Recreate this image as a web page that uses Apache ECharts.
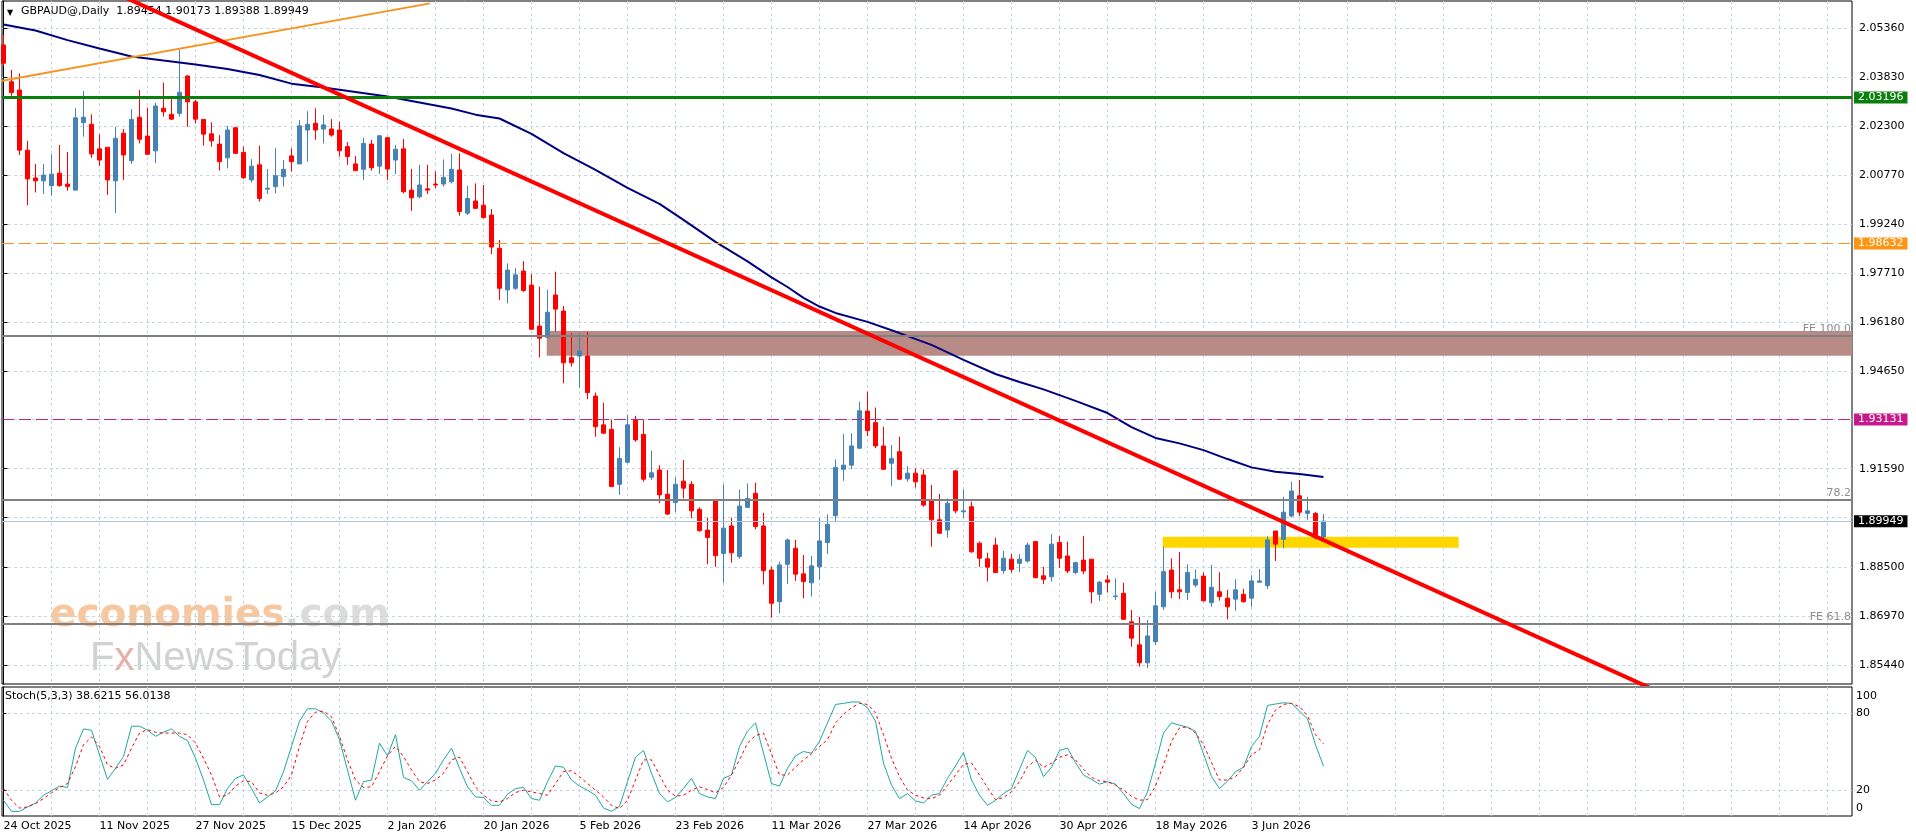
<!DOCTYPE html>
<html>
<head>
<meta charset="utf-8">
<title>GBPAUD@, Daily</title>
<script src="https://cdn.jsdelivr.net/npm/echarts@6/dist/echarts.min.js"></script>
<style>
  html, body { margin: 0; padding: 0; background: #fff; }
  #chart { width: 1916px; height: 840px; }
</style>
</head>
<body>
<div id="chart"></div>
<script>
// daily bars from 24 Oct 2025, one per trading day: [open, close, low, high]
const ohlc = [
  [2.0484, 2.0427, 2.0418, 2.0515], [2.0369, 2.0335, 2.0325, 2.0406], [2.0343, 2.0155, 2.0140, 2.0395], [2.0155, 2.0065, 1.9983, 2.0184],
  [2.0068, 2.0059, 2.0023, 2.0112], [2.0059, 2.0077, 2.0018, 2.0112], [2.0044, 2.0080, 2.0013, 2.0142], [2.0083, 2.0044, 2.0041, 2.0171],
  [2.0049, 2.0041, 2.0028, 2.0149], [2.0030, 2.0256, 2.0030, 2.0286], [2.0241, 2.0258, 2.0197, 2.0340], [2.0236, 2.0143, 2.0131, 2.0267],
  [2.0159, 2.0124, 2.0106, 2.0205], [2.0164, 2.0062, 2.0015, 2.0164], [2.0059, 2.0192, 1.9958, 2.0228], [2.0208, 2.0140, 2.0062, 2.0221],
  [2.0122, 2.0251, 2.0112, 2.0283], [2.0258, 2.0189, 2.0176, 2.0343], [2.0199, 2.0142, 2.0140, 2.0288], [2.0153, 2.0293, 2.0114, 2.0303],
  [2.0286, 2.0275, 2.0260, 2.0366], [2.0267, 2.0252, 2.0249, 2.0317], [2.0270, 2.0336, 2.0260, 2.0468], [2.0387, 2.0306, 2.0228, 2.0389],
  [2.0306, 2.0252, 2.0239, 2.0312], [2.0251, 2.0205, 2.0169, 2.0252], [2.0206, 2.0184, 2.0166, 2.0242], [2.0174, 2.0119, 2.0091, 2.0202],
  [2.0131, 2.0218, 2.0098, 2.0231], [2.0225, 2.0145, 2.0143, 2.0228], [2.0148, 2.0069, 2.0065, 2.0166], [2.0062, 2.0105, 2.0054, 2.0127],
  [2.0109, 2.0004, 1.9994, 2.0169], [2.0033, 2.0036, 2.0018, 2.0096], [2.0041, 2.0075, 2.0020, 2.0161], [2.0072, 2.0095, 2.0041, 2.0124],
  [2.0137, 2.0119, 2.0088, 2.0161], [2.0112, 2.0231, 2.0111, 2.0249], [2.0218, 2.0236, 2.0119, 2.0277], [2.0239, 2.0218, 2.0187, 2.0286],
  [2.0221, 2.0234, 2.0176, 2.0265], [2.0221, 2.0202, 2.0197, 2.0252], [2.0218, 2.0153, 2.0135, 2.0244], [2.0166, 2.0135, 2.0109, 2.0180],
  [2.0112, 2.0091, 2.0091, 2.0137], [2.0095, 2.0176, 2.0062, 2.0194], [2.0174, 2.0100, 2.0091, 2.0187], [2.0105, 2.0200, 2.0080, 2.0202],
  [2.0194, 2.0096, 2.0062, 2.0197], [2.0124, 2.0158, 2.0080, 2.0171], [2.0159, 2.0025, 2.0020, 2.0190], [2.0030, 2.0006, 1.9965, 2.0096],
  [2.0009, 2.0046, 2.0004, 2.0109], [2.0034, 2.0030, 2.0018, 2.0109], [2.0049, 2.0046, 2.0036, 2.0088], [2.0049, 2.0070, 2.0041, 2.0126],
  [2.0056, 2.0095, 2.0051, 2.0143], [2.0093, 1.9963, 1.9950, 2.0145], [1.9958, 2.0004, 1.9952, 2.0043], [1.9996, 1.9973, 1.9971, 2.0051],
  [1.9983, 1.9944, 1.9942, 2.0046], [1.9952, 1.9852, 1.9830, 1.9971], [1.9848, 1.9723, 1.9686, 1.9874], [1.9718, 1.9780, 1.9676, 1.9801],
  [1.9723, 1.9765, 1.9718, 1.9786], [1.9777, 1.9716, 1.9712, 1.9808], [1.9733, 1.9595, 1.9593, 1.9767], [1.9605, 1.9567, 1.9507, 1.9728],
  [1.9570, 1.9648, 1.9567, 1.9718], [1.9702, 1.9658, 1.9587, 1.9775], [1.9652, 1.9490, 1.9426, 1.9668], [1.9506, 1.9490, 1.9478, 1.9582],
  [1.9511, 1.9527, 1.9412, 1.9582], [1.9511, 1.9397, 1.9376, 1.9587], [1.9386, 1.9290, 1.9259, 1.9397], [1.9296, 1.9270, 1.9267, 1.9365],
  [1.9282, 1.9103, 1.9103, 1.9313], [1.9110, 1.9191, 1.9077, 1.9226], [1.9179, 1.9296, 1.9176, 1.9327], [1.9313, 1.9249, 1.9243, 1.9324],
  [1.9266, 1.9126, 1.9118, 1.9313], [1.9132, 1.9146, 1.9124, 1.9215], [1.9155, 1.9077, 1.9051, 1.9170], [1.9079, 1.9017, 1.9014, 1.9155],
  [1.9053, 1.9110, 1.9024, 1.9132], [1.9120, 1.9098, 1.9066, 1.9186], [1.9110, 1.9027, 1.9004, 1.9120], [1.9032, 1.8965, 1.8962, 1.9038],
  [1.8967, 1.8944, 1.8860, 1.9006], [1.9058, 1.8887, 1.8852, 1.9058], [1.8894, 1.8973, 1.8802, 1.9110], [1.8980, 1.8896, 1.8865, 1.9006],
  [1.8884, 1.9042, 1.8877, 1.9094], [1.9038, 1.9066, 1.9037, 1.9113], [1.9082, 1.8978, 1.8969, 1.9115], [1.8980, 1.8840, 1.8797, 1.9021],
  [1.8842, 1.8738, 1.8693, 1.8852], [1.8743, 1.8858, 1.8707, 1.8868], [1.8860, 1.8936, 1.8798, 1.8941], [1.8910, 1.8829, 1.8808, 1.8936],
  [1.8830, 1.8806, 1.8754, 1.8889], [1.8802, 1.8855, 1.8759, 1.8886], [1.8852, 1.8933, 1.8811, 1.9004], [1.8928, 1.8985, 1.8892, 1.9016],
  [1.9012, 1.9163, 1.8993, 1.9188], [1.9157, 1.9170, 1.9121, 1.9267], [1.9170, 1.9230, 1.9157, 1.9270], [1.9223, 1.9340, 1.9220, 1.9368],
  [1.9339, 1.9278, 1.9261, 1.9400], [1.9303, 1.9230, 1.9223, 1.9350], [1.9230, 1.9157, 1.9155, 1.9290], [1.9176, 1.9191, 1.9105, 1.9233],
  [1.9212, 1.9126, 1.9124, 1.9259], [1.9127, 1.9145, 1.9118, 1.9167], [1.9145, 1.9118, 1.9100, 1.9160], [1.9139, 1.9045, 1.9040, 1.9157],
  [1.9061, 1.8999, 1.8915, 1.9108], [1.8999, 1.8957, 1.8955, 1.9080], [1.8967, 1.9051, 1.8943, 1.9066], [1.9152, 1.9027, 1.9019, 1.9155],
  [1.9024, 1.9027, 1.9006, 1.9094], [1.9040, 1.8899, 1.8896, 1.9056], [1.8926, 1.8879, 1.8852, 1.8931], [1.8877, 1.8851, 1.8806, 1.8896],
  [1.8920, 1.8834, 1.8832, 1.8943], [1.8840, 1.8879, 1.8830, 1.8902], [1.8876, 1.8844, 1.8834, 1.8892], [1.8863, 1.8876, 1.8835, 1.8892],
  [1.8870, 1.8920, 1.8865, 1.8928], [1.8931, 1.8818, 1.8818, 1.8931], [1.8824, 1.8813, 1.8798, 1.8852], [1.8821, 1.8923, 1.8806, 1.8954],
  [1.8928, 1.8879, 1.8849, 1.8948], [1.8886, 1.8839, 1.8832, 1.8931], [1.8834, 1.8865, 1.8829, 1.8868], [1.8873, 1.8839, 1.8829, 1.8948],
  [1.8876, 1.8774, 1.8738, 1.8876], [1.8766, 1.8804, 1.8745, 1.8808], [1.8811, 1.8804, 1.8772, 1.8826], [1.8759, 1.8761, 1.8748, 1.8816],
  [1.8769, 1.8688, 1.8686, 1.8802], [1.8680, 1.8629, 1.8602, 1.8717], [1.8608, 1.8552, 1.8540, 1.8696], [1.8552, 1.8636, 1.8535, 1.8686],
  [1.8618, 1.8730, 1.8608, 1.8774], [1.8727, 1.8837, 1.8717, 1.8915], [1.8842, 1.8774, 1.8754, 1.8879], [1.8780, 1.8774, 1.8751, 1.8899],
  [1.8772, 1.8834, 1.8748, 1.8860], [1.8795, 1.8813, 1.8788, 1.8844], [1.8823, 1.8746, 1.8743, 1.8834], [1.8740, 1.8788, 1.8727, 1.8858],
  [1.8774, 1.8759, 1.8746, 1.8835], [1.8754, 1.8727, 1.8688, 1.8780], [1.8751, 1.8780, 1.8715, 1.8813], [1.8766, 1.8743, 1.8740, 1.8783],
  [1.8754, 1.8808, 1.8727, 1.8826], [1.8804, 1.8808, 1.8802, 1.8845], [1.8793, 1.8936, 1.8783, 1.8948], [1.8964, 1.8923, 1.8870, 1.8964],
  [1.8938, 1.9023, 1.8910, 1.9071], [1.9011, 1.9089, 1.9007, 1.9118], [1.9074, 1.9023, 1.9011, 1.9124], [1.9019, 1.9027, 1.8999, 1.9071],
  [1.9019, 1.8943, 1.8938, 1.9024], [1.89454, 1.89949, 1.89388, 1.90173]
];

// moving average, read at these bars
const maBars = [0, 4, 8, 12, 16, 20, 24, 28, 32, 36, 40, 44, 48, 52, 56, 59, 62, 66, 70, 74, 78, 82, 85, 89, 93, 96, 98, 100,
  102, 104, 108, 112, 116, 120, 124, 127, 130, 134, 138, 141, 144, 147, 150, 153, 156, 159, 162, 165];
const maValues = [2.0548, 2.0529, 2.0499, 2.0473, 2.0448, 2.0435, 2.0423, 2.0409, 2.0390, 2.0363, 2.0351, 2.0337, 2.0323, 2.0304,
  2.0285, 2.0266, 2.0254, 2.0206, 2.0146, 2.0093, 2.0037, 1.9987, 1.9937, 1.9868, 1.9807, 1.9757, 1.9727, 1.9693, 1.9666, 1.9646,
  1.9618, 1.9583, 1.9546, 1.9499, 1.9455, 1.9430, 1.9407, 1.9371, 1.9333, 1.9289, 1.9255, 1.9238, 1.9217, 1.9189, 1.9163, 1.9149,
  1.9142, 1.9133];

// Stoch(5,3,3)
const stochK = [12.2, 3.6, 3.6, 7.0, 10.1, 16.1, 19.5, 23.2, 22.1, 52.6, 67.5, 66.5, 47.4, 28.4, 37, 46.1, 69.6, 69.6, 66.5, 61.8,
  64.9, 67.5, 61.8, 58.4, 44.8, 27.9, 8.8, 8.8, 21.3, 29.2, 31.8, 21.3, 10.1, 14.8, 19.5, 34.4, 53.9, 73.5, 83.1, 83.1,
  80, 73.5, 59.1, 35.6, 12.2, 26.6, 27.9, 56.5, 46.6, 63.1, 29.9, 27.3, 20, 26.6, 33.1, 43.5, 52.6, 37, 22.6, 14.8,
  14.3, 8.3, 8.3, 16.9, 21.3, 22.1, 13.5, 12.2, 26.6, 38.8, 37.8, 27.9, 23.2, 20, 16.1, 6.2, 3.6, 7.5, 26.6, 45.6,
  50.8, 33.1, 17.4, 10.9, 14.3, 21.3, 29.2, 17.4, 14.8, 13.5, 29.2, 31.8, 53.9, 65.7, 72.2, 48.7, 25.2, 23.2, 37, 46.6,
  50, 48.7, 57.9, 72.2, 86.5, 87.3, 88.4, 88.4, 83.9, 73.5, 40.9, 23.9, 13.5, 17.4, 11.7, 10.1, 16.1, 17.4, 29.2, 38.8,
  49.3, 27.9, 16.1, 8.3, 12.2, 17.4, 21.3, 36.2, 50.8, 45.4, 30.5, 37.8, 50.8, 52.6, 41.4, 31.8, 28.4, 24.7, 26.6, 24.7,
  17.4, 9.1, 5.7, 18.7, 40.9, 64.4, 72.2, 70.4, 68.8, 65.7, 48.2, 30.5, 21.3, 27, 34.4, 37.8, 53.9, 61.8, 85.7, 86.8,
  87.8, 87.3, 81.3, 75.3, 55.2, 38.6215];
const stochD = [21.3, 12.2, 6.2, 7, 9.6, 13.5, 17.9, 22.1, 25.2, 38.3, 55.2, 61.3, 54, 39.6, 37, 39.6, 52.6, 64.3, 67, 64.9,
  64.3, 64.3, 64.3, 63, 56.5, 44.8, 31.8, 14.8, 16.1, 23.2, 27.3, 26.6, 17.9, 16.1, 17.9, 22.6, 31.8, 53.9, 73.5, 80.5,
  81.3, 76.9, 61.8, 43.5, 27.9, 22.1, 22.6, 34.4, 46.6, 54, 46.1, 35.7, 26.6, 25.2, 27.9, 33.1, 43.5, 45.6, 34.4, 22.6,
  16.1, 11.7, 10.9, 13.5, 18.2, 20, 18.7, 17.4, 16.1, 25.2, 34.4, 35.1, 30.5, 25.2, 20, 14.8, 8.3, 5.7, 12.2, 27.9,
  43.5, 43.5, 31.8, 20, 15.3, 16.1, 20, 22.6, 20.6, 17.9, 22.1, 31.8, 43.5, 56.5, 62.3, 64.3, 48.2, 31.8, 31.8, 37.8,
  43.5, 48.2, 54, 59.1, 72.2, 78.7, 83.9, 87.3, 86.5, 80, 63, 44.8, 30.5, 20, 16.1, 14, 13.5, 16.1, 23.9, 31.8,
  40.1, 41.1, 31.8, 22.1, 12.7, 14.3, 18.7, 26.6, 38.3, 43.3, 37.8, 40.9, 45.6, 47.4, 43.5, 36.2, 29.9, 27.3, 26.6, 23.9,
  20, 15.3, 12.2, 12.7, 23.2, 39.6, 57.8, 68.3, 69.1, 64.4, 55.2, 41.4, 27.9, 27.9, 30.5, 37.8, 47.4, 51.3, 70.9, 82.2,
  86.5, 87.3, 84.7, 77.9, 63, 56.0138];

// time axis: a label every 12 bars, grid every 6 bars
const dateLabels = ['24 Oct 2025', '11 Nov 2025', '27 Nov 2025', '15 Dec 2025', '2 Jan 2026', '20 Jan 2026', '5 Feb 2026',
  '23 Feb 2026', '11 Mar 2026', '27 Mar 2026', '14 Apr 2026', '30 Apr 2026', '18 May 2026', '3 Jun 2026'];
const labelEvery = 12;
const gridEvery = 6;
const gridCount = 39;

// price scale labels (MT4 style) and the two hidden under tags
const priceLabels = [2.0536, 2.0383, 2.0230, 2.0077, 1.9924, 1.9771, 1.9618, 1.9465, 1.9159, 1.8850, 1.8697, 1.8544];
const priceHidden = [1.9312, 1.9006];

// drawn objects
const hLevels = [2.03196, 1.98632, 1.93131, 1.89949];
const fiboLevels = [1.95738, 1.9063, 1.8675];
const fiboNames = ['FE 100.0', '78.2', 'FE 61.8'];
const redTrend = [[14, 2.0646], [210, 1.8426]];
const orangeTrend = [[-1, 2.0368], [53.3, 2.0614]];
const brownZone = [67.9, 240, 1.95894, 1.95122];
const yellowZone = [144.9, 181.9, 1.89462, 1.89118];

const FONT = '"DejaVu Sans", Verdana, sans-serif';
const X_MIN = -0.1875, X_MAX = 231.0625;
const Y_MIN = 1.84856, Y_MAX = 2.06214;

const gridBars = [];
for (let i = 0; i < gridCount; i++) gridBars.push(i * gridEvery);
const labelBars = dateLabels.map((d, i) => i * labelEvery);
const last = ohlc[ohlc.length - 1];

const chart = echarts.init(document.getElementById('chart'));

const grey = '#808080';
const levelStyle = [
  { color: '#0b7f0b', width: 3, type: 'solid', tag: '#0b7f0b' },
  { color: '#f7951f', width: 1, type: [12, 5], tag: '#ff9410' },
  { color: '#b8268e', width: 1, type: [12, 5], tag: '#c8188c' },
  { color: '#a9c6da', width: 1, type: 'solid', tag: '#000000' }
];

const markLines = hLevels.map((v, i) => ({
  yAxis: v,
  lineStyle: { color: levelStyle[i].color, width: levelStyle[i].width, type: levelStyle[i].type },
  label: {
    show: true, position: 'end', distance: 2, formatter: v.toFixed(5),
    backgroundColor: levelStyle[i].tag, color: '#fff', padding: [1, 4, 0, 4],
    fontSize: 11, fontFamily: FONT
  }
})).concat(fiboLevels.map((v, i) => ({
  yAxis: v,
  lineStyle: { color: grey, width: 2, type: 'solid' },
  label: {
    show: true, position: 'insideEndTop', distance: 1, formatter: fiboNames[i],
    color: '#8f8f8f', fontSize: 11, fontFamily: FONT
  }
})));

const option = {
  animation: false,
  backgroundColor: '#fff',
  grid: [
    { left: 2, right: 64, top: 1, height: 683, show: true, borderColor: '#000', borderWidth: 1 },
    { left: 2, right: 64, top: 687, height: 129, show: true, borderColor: '#000', borderWidth: 1 }
  ],
  xAxis: [
    {
      gridIndex: 0, type: 'value', min: X_MIN, max: X_MAX,
      axisLine: { show: false },
      axisTick: { show: false, customValues: gridBars },
      axisLabel: { show: false },
      splitLine: { show: true, lineStyle: { color: '#c6d4de', type: [3, 3], width: 1 } }
    },
    {
      gridIndex: 1, type: 'value', min: X_MIN, max: X_MAX,
      axisLine: { show: false },
      axisTick: { show: false, customValues: gridBars },
      axisLabel: {
        customValues: labelBars, formatter: v => dateLabels[Math.round(v / labelEvery)],
        align: 'left', margin: 5, color: '#000', fontSize: 11, fontFamily: FONT
      },
      splitLine: { show: true, lineStyle: { color: '#c6d4de', type: [3, 3], width: 1 } }
    }
  ],
  yAxis: [
    {
      gridIndex: 0, type: 'value', position: 'right', min: Y_MIN, max: Y_MAX,
      axisLine: { show: true, lineStyle: { color: '#000' } },
      axisTick: { show: true, length: 4, customValues: priceLabels.concat(priceHidden), lineStyle: { color: '#000' } },
      axisLabel: {
        customValues: priceLabels, formatter: v => v.toFixed(5),
        margin: 7, color: '#000', fontSize: 11, fontFamily: FONT
      },
      splitLine: { show: true, lineStyle: { color: '#c6d4de', type: [3, 3], width: 1 } }
    },
    {
      gridIndex: 1, type: 'value', position: 'right', min: 0, max: 100,
      axisLine: { show: true, lineStyle: { color: '#000' } },
      axisTick: { show: true, length: 3, customValues: [20, 80], lineStyle: { color: '#000' } },
      axisLabel: {
        customValues: [6.2, 20, 80, 93.3],
        formatter: v => (v < 10 ? '0' : v > 90 ? '100' : String(v)),
        margin: 4, color: '#000', fontSize: 11, fontFamily: FONT
      },
      splitLine: { show: true, lineStyle: { color: '#c6d4de', type: [3, 3], width: 1 } }
    }
  ],
  graphic: [
    { type: 'text', left: 7, top: 9, style: { text: '▼', font: '8px ' + FONT, fill: '#000' } },
    {
      type: 'text', left: 21, top: 6,
      style: {
        text: 'GBPAUD@,Daily  ' + [last[0], last[3], last[2], last[1]].map(v => v.toFixed(5)).join(' '),
        font: '11px ' + FONT, fill: '#000'
      }
    },
    {
      type: 'text', left: 5, top: 691, z: 10,
      style: {
        text: 'Stoch(5,3,3) ' + stochK[stochK.length - 1].toFixed(4) + ' ' + stochD[stochD.length - 1].toFixed(4),
        font: '11px ' + FONT, fill: '#000'
      }
    },
    {
      type: 'text', left: 50, top: 596, z: -1,
      style: {
        text: '{a|economies}{b|.com}',
        rich: {
          a: { fill: '#f7c7a0', fontSize: 39, fontWeight: 'bold', fontFamily: FONT },
          b: { fill: '#dcdcdc', fontSize: 39, fontWeight: 'bold', fontFamily: FONT }
        }
      }
    },
    {
      type: 'text', left: 90, top: 639, z: -1,
      style: {
        text: '{a|F}{x|x}{a|NewsToday}',
        rich: {
          a: { fill: '#d2d2d2', fontSize: 40, fontFamily: '"Liberation Sans", Arial, sans-serif' },
          x: { fill: '#e7b0a8', fontSize: 40, fontFamily: '"Liberation Sans", Arial, sans-serif' }
        }
      }
    }
  ],
  series: [
    {
      name: 'zones', type: 'line', xAxisIndex: 0, yAxisIndex: 0, data: [], z: 1, silent: true,
      markArea: {
        silent: true,
        data: [
          [{ xAxis: brownZone[0], yAxis: brownZone[2], itemStyle: { color: '#b98b87' } }, { xAxis: Math.min(brownZone[1], X_MAX), yAxis: brownZone[3] }],
          [{ xAxis: yellowZone[0], yAxis: yellowZone[2], itemStyle: { color: '#ffd700' } }, { xAxis: yellowZone[1], yAxis: yellowZone[3] }]
        ]
      }
    },
    {
      name: 'GBPAUD', type: 'candlestick', xAxisIndex: 0, yAxisIndex: 0, z: 3,
      data: ohlc.map((d, i) => [i, d[0], d[1], d[2], d[3]]),
      encode: { x: 0, y: [1, 2, 3, 4] },
      barWidth: 4,
      itemStyle: { color: '#4682b4', color0: '#ff0000', borderColor: '#4682b4', borderColor0: '#ff0000', borderWidth: 1 }
    },
    {
      name: 'MA', type: 'line', xAxisIndex: 0, yAxisIndex: 0, z: 4, symbol: 'none', silent: true,
      data: maBars.map((b, i) => [b, maValues[i]]),
      lineStyle: { color: '#000080', width: 2 },
      markLine: { silent: true, symbol: ['none', 'none'], precision: 5, data: markLines }
    },
    {
      name: 'trend up', type: 'line', xAxisIndex: 0, yAxisIndex: 0, z: 5, symbol: 'none', silent: true,
      data: orangeTrend, lineStyle: { color: '#f7941d', width: 2 }
    },
    {
      name: 'trend down', type: 'line', xAxisIndex: 0, yAxisIndex: 0, z: 5, symbol: 'none', silent: true,
      data: redTrend, lineStyle: { color: '#ff0000', width: 4 }
    },
    {
      name: '%K', type: 'line', xAxisIndex: 1, yAxisIndex: 1, symbol: 'none', silent: true,
      data: stochK.map((v, i) => [i, v]), lineStyle: { color: '#20a89f', width: 1 }
    },
    {
      name: '%D', type: 'line', xAxisIndex: 1, yAxisIndex: 1, symbol: 'none', silent: true,
      data: stochD.map((v, i) => [i, v]), lineStyle: { color: '#ff0000', width: 1, type: [3, 3] }
    }
  ]
};

chart.setOption(option);
window.addEventListener('resize', () => chart.resize());
</script>
</body>
</html>
